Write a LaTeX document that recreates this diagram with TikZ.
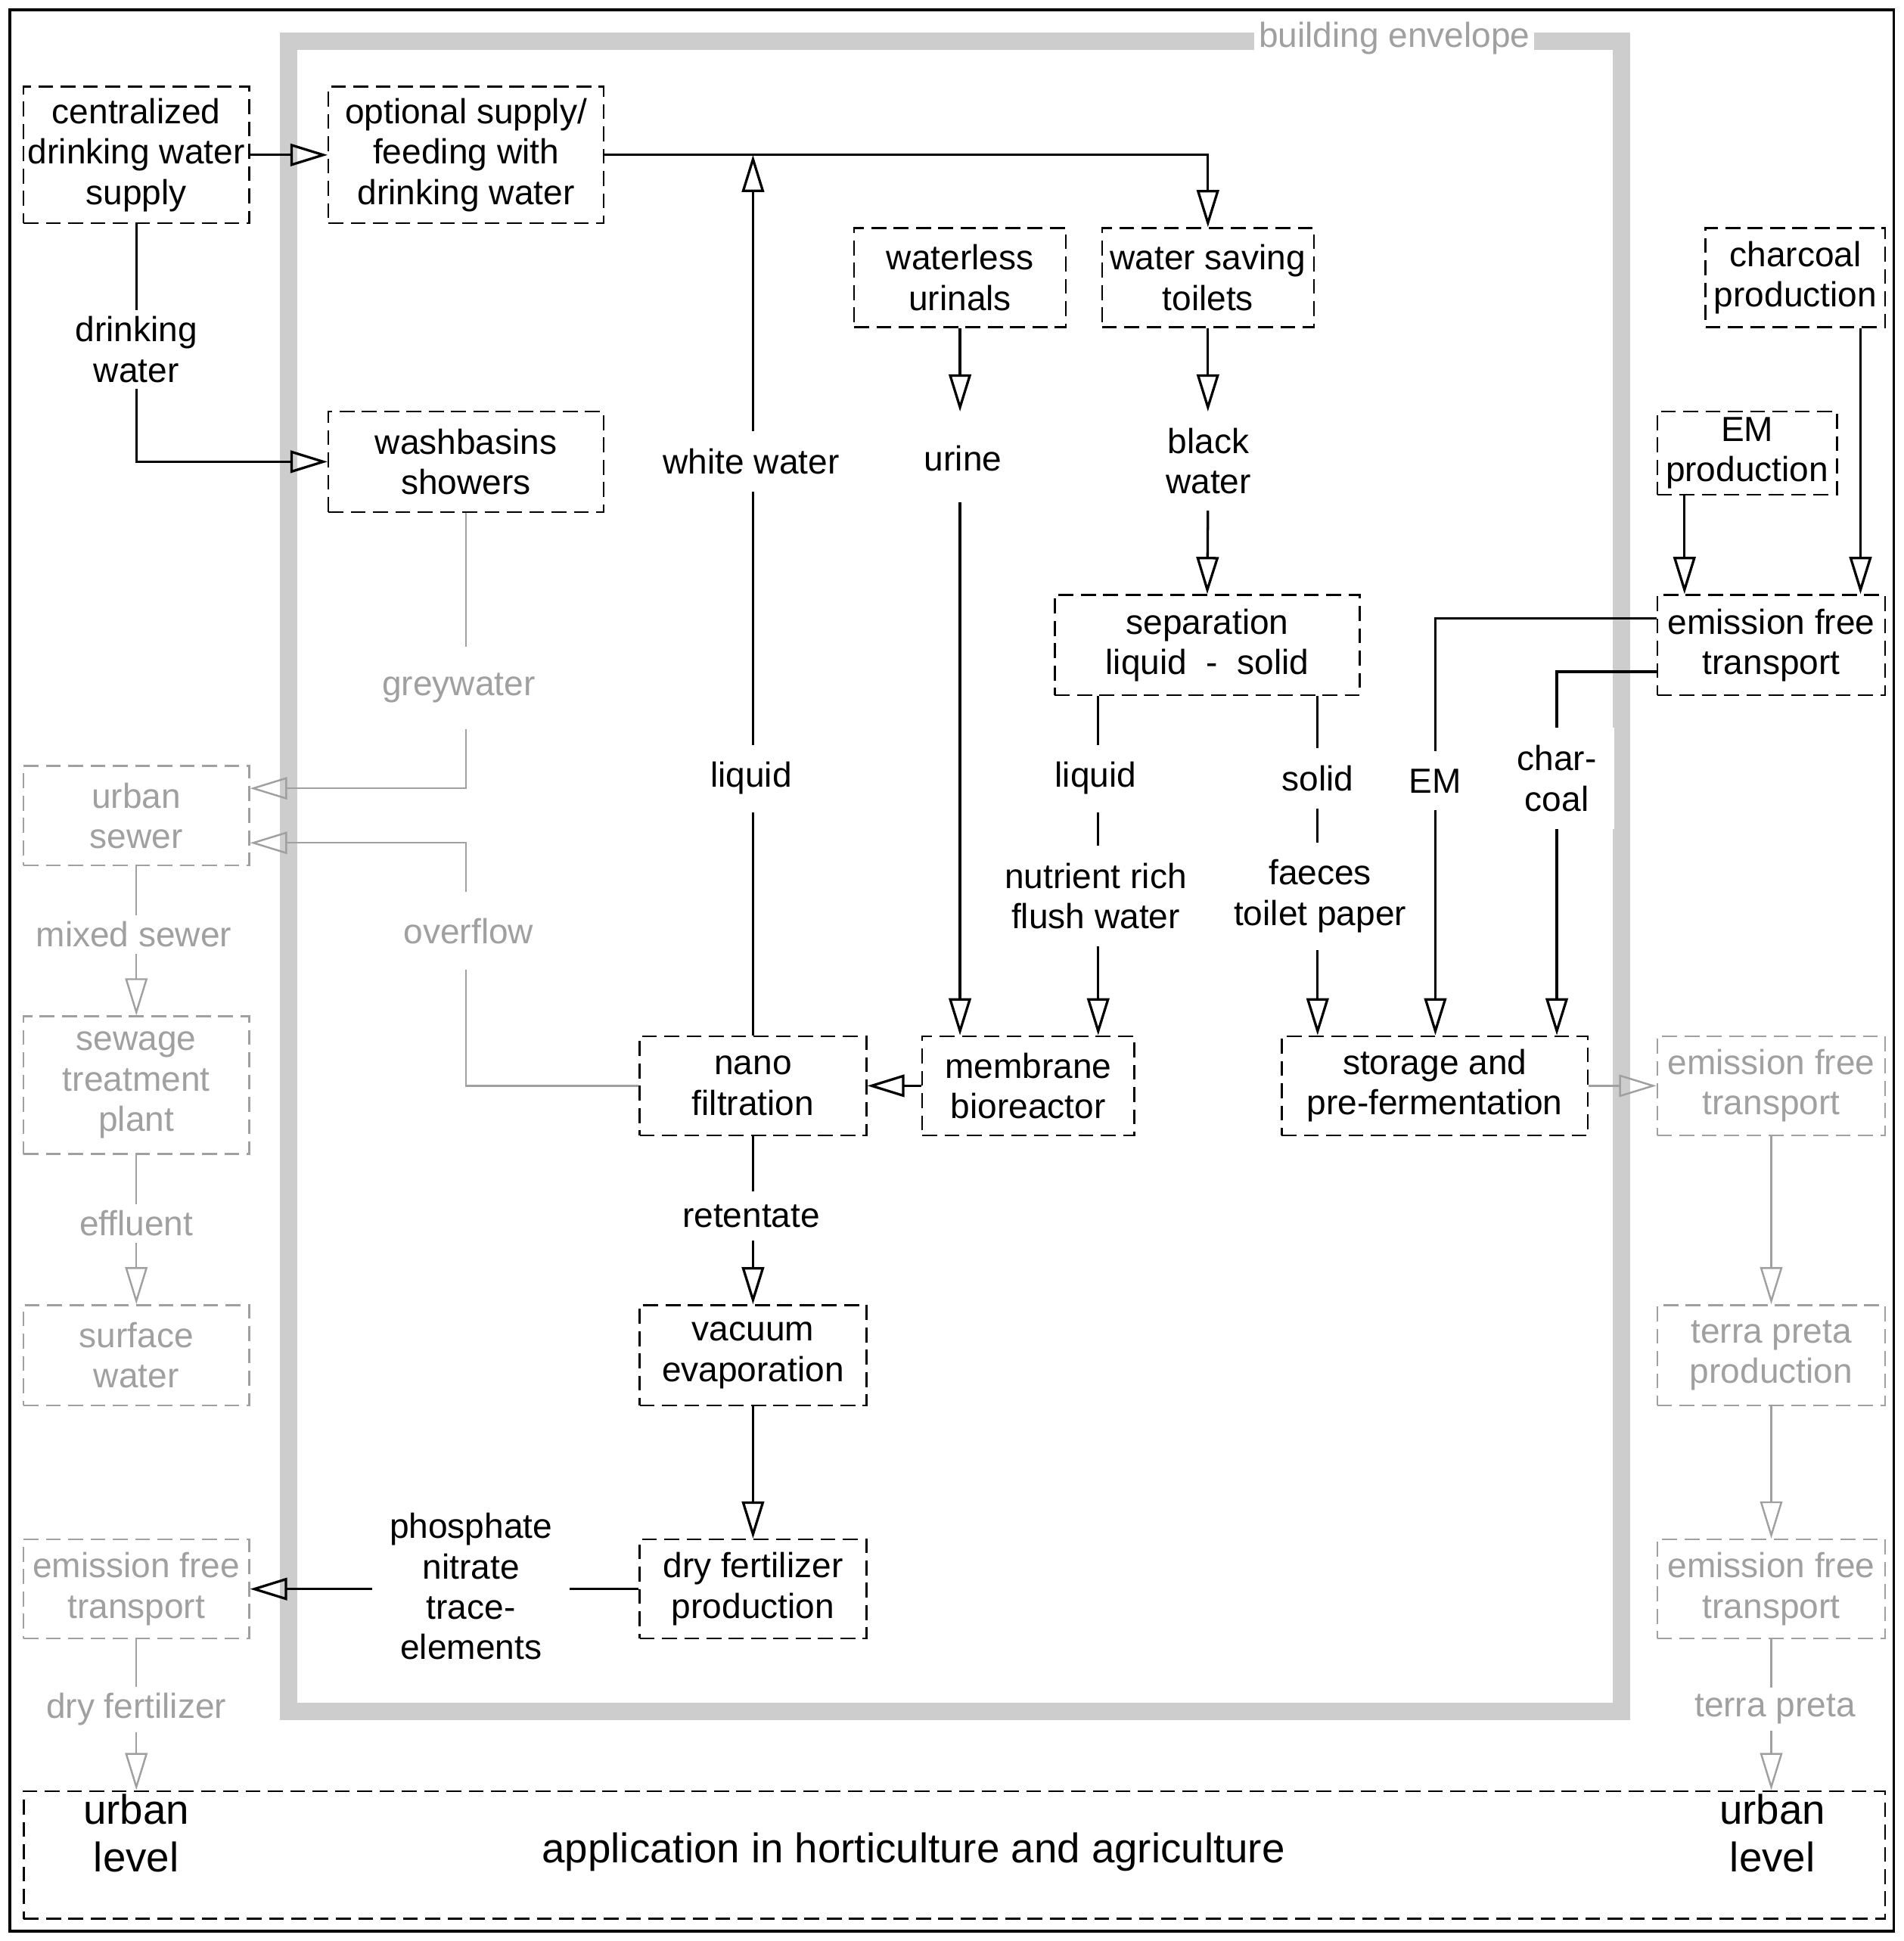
\documentclass[tikz,border=0pt]{standalone}
\usepackage{fontspec}
\setmainfont{Liberation Sans}
\usetikzlibrary{arrows.meta}
\definecolor{lg}{RGB}{160,160,160}
\definecolor{env}{RGB}{205,205,205}
\begin{document}
\begin{tikzpicture}[x=0.02cm,y=-0.02cm,
  every node/.style={font=\fontsize{16}{18.5}\selectfont, align=center},
  box/.style={draw, dashed, dash pattern=on 0.24cm off 0.12cm, line width=0.03cm, inner sep=0pt},
  gbox/.style={box, draw=lg, text=lg},
  lab/.style={fill=white, inner sep=3pt},
  glab/.style={lab, text=lg},
  ln/.style={line width=0.04cm},
  gln/.style={line width=0.03cm, draw=lg},
  arr/.style={ln, -{Triangle[open,length=0.6cm,width=0.36cm]}},
  garr/.style={gln, -{Triangle[open,length=0.6cm,width=0.36cm]}}]
\useasboundingbox (0,0) rectangle (1536,1566);
\draw[line width=0.04cm] (8,8) rectangle (1528,1558);
\draw[env, line width=0.28cm] (233,33) rectangle (1308,1381);
\node[fill=white, text=lg, inner sep=2pt] (envlab) at (1125,31) {building envelope};
% nodes
\node[box, minimum width=3.64cm, minimum height=2.2cm] (cdw) at (110,125) {centralized\\drinking water\\supply};
\node[box, minimum width=4.44cm, minimum height=2.2cm] (opt) at (376,125) {optional supply/\\feeding with\\drinking water};
\node[box, minimum width=4.44cm, minimum height=1.62cm] (wash) at (376,372.5) {washbasins\\showers};
\node[box, minimum width=3.42cm, minimum height=1.6cm] (uri) at (774.5,224) {waterless\\urinals};
\node[box, minimum width=3.42cm, minimum height=1.6cm] (toi) at (974.5,224) {water saving\\toilets};
\node[box, minimum width=2.9cm, minimum height=1.6cm] (char) at (1448.5,224) {charcoal\\production};
\node[box, minimum width=2.9cm, minimum height=1.34cm] (emp) at (1409.5,365.5) {EM\\production};
\node[box, minimum width=3.68cm, minimum height=1.62cm] (eft) at (1429,520.5) {emission free\\transport};
\node[box, minimum width=4.92cm, minimum height=1.62cm] (sep) at (974,520.5) {separation\\liquid\ \ -\ \ solid};
\node[gbox, minimum width=3.64cm, minimum height=1.6cm] (sew) at (110,658) {urban\\sewer};
\node[gbox, minimum width=3.64cm, minimum height=2.22cm] (stp) at (110,875.5) {sewage\\treatment\\plant};
\node[gbox, minimum width=3.64cm, minimum height=1.62cm] (surf) at (110,1093.5) {surface\\water};
\node[gbox, minimum width=3.64cm, minimum height=1.6cm] (eftl) at (110,1282) {emission free\\transport};
\node[box, minimum width=3.66cm, minimum height=1.6cm] (nano) at (607.5,876) {nano\\filtration};
\node[box, minimum width=3.42cm, minimum height=1.6cm] (mbr) at (829.5,876) {membrane\\bioreactor};
\node[box, minimum width=4.94cm, minimum height=1.6cm] (sto) at (1157.5,876) {storage and\\pre-fermentation};
\node[gbox, minimum width=3.68cm, minimum height=1.6cm] (eftr1) at (1429,876) {emission free\\transport};
\node[gbox, minimum width=3.68cm, minimum height=1.62cm] (terra) at (1429,1093.5) {terra preta\\production};
\node[gbox, minimum width=3.68cm, minimum height=1.6cm] (eftr2) at (1429,1282) {emission free\\transport};
\node[box, minimum width=3.66cm, minimum height=1.62cm] (vac) at (607.5,1093.5) {vacuum\\evaporation};
\node[box, minimum width=3.66cm, minimum height=1.6cm] (dry) at (607.5,1282) {dry fertilizer\\production};
\node[box, minimum width=30.04cm, minimum height=2.06cm] (app) at (770,1496.5) {};
\node[font=\fontsize{19}{22}\selectfont] (apptxt) at (737,1494) {application in horticulture and agriculture};
\node[font=\fontsize{19}{22}\selectfont, text height=14pt] (ul) at (110,1498) {urban\\level};
\node[font=\fontsize{19}{22}\selectfont, text height=14pt] (ur) at (1430,1498) {urban\\level};
% black connectors
\draw[arr] (cdw.east) -- (opt.west);
\draw[arr] (cdw.south) |- (wash.west);
\node[lab] (dwl) at (110,282) {drinking\\water};
\draw[arr] (opt.east) -| (toi.north);
\draw[arr] (nano.north) -- (nano.north |- opt.east);
\node[lab, inner sep=8pt] (ww) at (606,372) {white water};
\node[lab, inner sep=8pt] (liq1) at (606,628) {liquid};
\draw[arr] (uri.south) -- (uri.south |- 0,332);
\node (urine) at (777,370) {urine};
\draw[arr] (uri.south |- 0,405) -- (uri.south |- mbr.north);
\draw[arr] (toi.south) -- (toi.south |- 0,332);
\node (bw) at (975,372) {black\\water};
\draw[arr] (toi.south |- 0,412) -- (sep.north);
\draw[arr] (sep.south -| 886,0) -- (mbr.north -| 886,0);
\node[lab, inner sep=8pt] (liq2) at (884,628) {liquid};
\node[lab, inner sep=8pt] (nrf) at (884,723) {nutrient rich\\flush water};
\draw[arr] (sep.south -| 1063,0) -- (sto.north -| 1063,0);
\node[lab, inner sep=8pt] (sol) at (1063,628) {solid};
\node[lab, inner sep=8pt] (fae) at (1065,723) {faeces\\toilet paper};
\draw[arr] (emp.south -| 1359,0) -- (eft.north -| 1359,0);
\draw[arr] (char.south -| 1501,0) -- (eft.north -| 1501,0);
\draw[arr] (eft.west |- 0,499) -| (sto.north -| 1158,0);
\node[lab, inner sep=8pt] (em) at (1158,630) {EM};
\draw[arr] (eft.west |- 0,542) -| (sto.north -| 1256,0);
\node[lab, inner sep=8pt] (cc) at (1256,628) {char-\\coal};
\draw[arr] (mbr.west) -- (nano.east);
\draw[arr] (nano.south) -- (vac.north);
\node[lab, inner sep=6pt] (ret) at (606,981) {retentate};
\draw[arr] (vac.south) -- (dry.north);
\draw[arr] (dry.west) -- (eftl.east);
\node[lab, inner sep=8pt] (pho) at (380,1280) {phosphate\\nitrate\\trace-\\elements};
% gray connectors
\draw[garr] (wash.south) |- (sew.east |- 0,636);
\node[glab, inner sep=12pt] (gw) at (370,555) {greywater};
\draw[garr] (nano.west) -| (376,680) -- (sew.east |- 0,680);
\node[glab, inner sep=12pt] (ovf) at (378,751) {overflow};
\draw[garr] (sew.south) -- (stp.north);
\node[glab] (ms) at (108,754) {mixed sewer};
\draw[garr] (stp.south) -- (surf.north);
\node[glab] (eff) at (110,987) {effluent};
\draw[garr] (eftl.south) -- (eftl.south |- app.north);
\node[glab] (df) at (110,1379) {dry fertilizer};
\draw[garr] (sto.east) -- (eftr1.west);
\draw[garr] (eftr1.south) -- (terra.north);
\draw[garr] (terra.south) -- (eftr2.north);
\draw[garr] (eftr2.south) -- (eftr2.south |- app.north);
\node[glab] (tp) at (1432,1379) {terra preta};
\end{tikzpicture}
\end{document}
